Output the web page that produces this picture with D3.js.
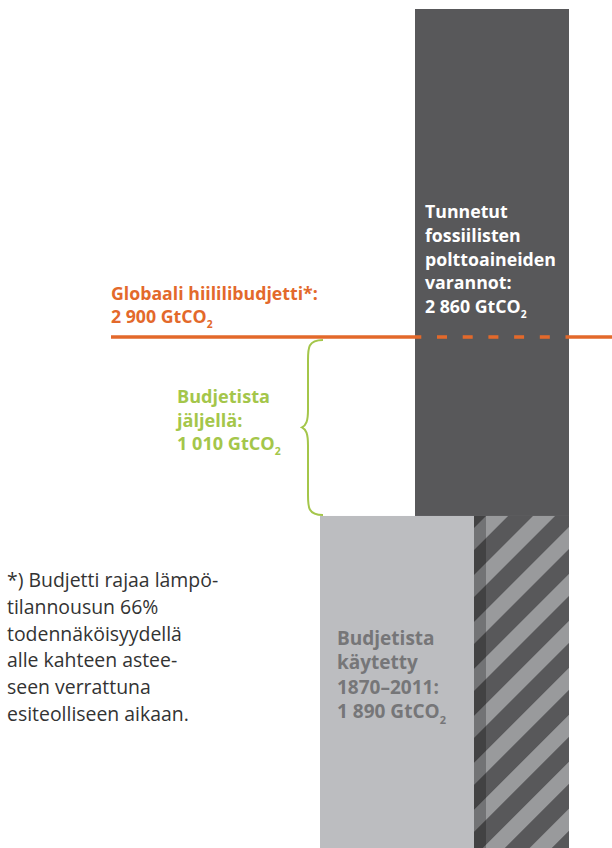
<!DOCTYPE html>
<html><head><meta charset="utf-8">
<script src="https://cdn.jsdelivr.net/npm/d3@7"></script>
<style>html,body{margin:0;padding:0;background:#fff}svg{display:block}</style>
</head><body>
<svg id="c" width="612" height="848"></svg>
<script>
// ---- data ----
const seriesNames = ["Budjetista käytetty 1870–2011", "Tunnetut fossiilisten polttoaineiden varannot"];
const seriesValues = [1890, 2860];          // used budget, known reserves (stacked on used)
const budgetValue = [2900];                 // global carbon budget
const remainingValue = [1010];              // remaining budget
const reservesLabel = ["Tunnetut", "fossiilisten", "polttoaineiden", "varannot:", "2 860 GtCO"];
const usedLabel = ["Budjetista", "käytetty", "1870–2011:", "1 890 GtCO"];
const remainingLabel = ["Budjetista", "jäljellä:", "1 010 GtCO"];
const budgetLabel = ["Globaali hiililibudjetti*:", "2 900 GtCO"];
const footnote = ["*) Budjetti rajaa lämpö-", "tilannousun 66%", "todennäköisyydellä", "alle kahteen astee-", "seen verrattuna", "esiteolliseen aikaan."];

// ---- drawing ----
const svg = d3.select("#c");
const font = "'Open Sans', sans-serif";
const orange = "#e3692b", green = "#a4c64a", dark = "#58585a", light = "#bcbdc0";
const total = seriesValues[0] + seriesValues[1];
const y = d3.scaleLinear().domain([0, total]).range([851, 9]);

const defs = svg.append("defs");
const pat = defs.append("pattern").attr("id", "hatch").attr("patternUnits", "userSpaceOnUse")
  .attr("width", 33.2).attr("height", 40).attr("patternTransform", "translate(486,516) rotate(45)");
pat.append("rect").attr("width", 33.2).attr("height", 40).attr("fill", dark);
pat.append("rect").attr("x", 0).attr("width", 15.6).attr("height", 40).attr("fill", "#999a9c");

// reserves (dark) column
svg.append("rect").attr("x", 415).attr("width", 154)
  .attr("y", y(total)).attr("height", y(seriesValues[0]) - y(total)).attr("fill", dark);
// hatched lower part of reserves column
svg.append("rect").attr("x", 474).attr("width", 95)
  .attr("y", y(seriesValues[0])).attr("height", y(0) - y(seriesValues[0])).attr("fill", "url(#hatch)");
svg.append("rect").attr("x", 474).attr("width", 12)
  .attr("y", y(seriesValues[0])).attr("height", y(0) - y(seriesValues[0])).attr("fill", "#000").attr("opacity", 0.25);
// used budget column
svg.append("rect").attr("x", 320).attr("width", 154)
  .attr("y", y(seriesValues[0])).attr("height", y(0) - y(seriesValues[0])).attr("fill", light);

// budget line
const by = y(budgetValue[0]);
svg.append("line").attr("x1", 111).attr("x2", 415).attr("y1", by).attr("y2", by)
  .attr("stroke", orange).attr("stroke-width", 3.5);
svg.append("line").attr("x1", 569).attr("x2", 612).attr("y1", by).attr("y2", by)
  .attr("stroke", orange).attr("stroke-width", 3.5);
svg.append("line").attr("x1", 415).attr("x2", 569).attr("y1", by).attr("y2", by)
  .attr("stroke", orange).attr("stroke-width", 3.5)
  .attr("stroke-dasharray", "10,15.7").attr("stroke-dashoffset", 3.7);

// brace for remaining budget
const bTop = y(budgetValue[0]) + 3, bBot = y(budgetValue[0] - remainingValue[0]) - 1;
const bMid = (bTop + bBot) / 2, xv = 308, xe = 323, xt = 302;
const brace = `M${xe},${bTop} C${xv},${bTop} ${xv},${bTop+8} ${xv},${bTop+20}
  L${xv},${bMid-18} C${xv},${bMid-6} ${xv-2},${bMid-2} ${xt},${bMid}
  C${xv-2},${bMid+2} ${xv},${bMid+6} ${xv},${bMid+18}
  L${xv},${bBot-20} C${xv},${bBot-8} ${xv},${bBot} ${xe},${bBot}`;
svg.append("path").attr("d", brace).attr("fill", "none").attr("stroke", green).attr("stroke-width", 2);

// text label with font size fitted so that line `fitIdx` is `fitW` px wide
function label(lines, x, y0, lh, color, weight, subLast, fitIdx, fitW) {
  const probe = svg.append("text").attr("font-family", font).attr("font-size", 16)
    .attr("font-weight", weight).text(lines[fitIdx]);
  const size = 16 * fitW / probe.node().getComputedTextLength();
  probe.remove();
  const t = svg.append("text").attr("font-family", font).attr("font-size", size)
    .attr("font-weight", weight).attr("fill", color);
  lines.forEach((s, i) => {
    t.append("tspan").attr("x", x).attr("y", y0 + i * lh).text(s);
    if (subLast && i === lines.length - 1) {
      t.append("tspan").attr("dy", size * 0.3).attr("font-size", size * 0.58).text("2");
    }
  });
}
label(budgetLabel, 111, 299.5, 23.5, orange, 700, true, 0, 207);
label(remainingLabel, 177, 403, 23.5, green, 700, true, 0, 93);
label(reservesLabel, 425, 218.3, 23.7, "#fff", 700, true, 2, 131);
label(usedLabel, 337, 645, 24.3, "#767678", 700, true, 2, 102);
label(footnote, 7, 587, 26.8, "#333", 400, false, 2, 175);
</script>
</body></html>
